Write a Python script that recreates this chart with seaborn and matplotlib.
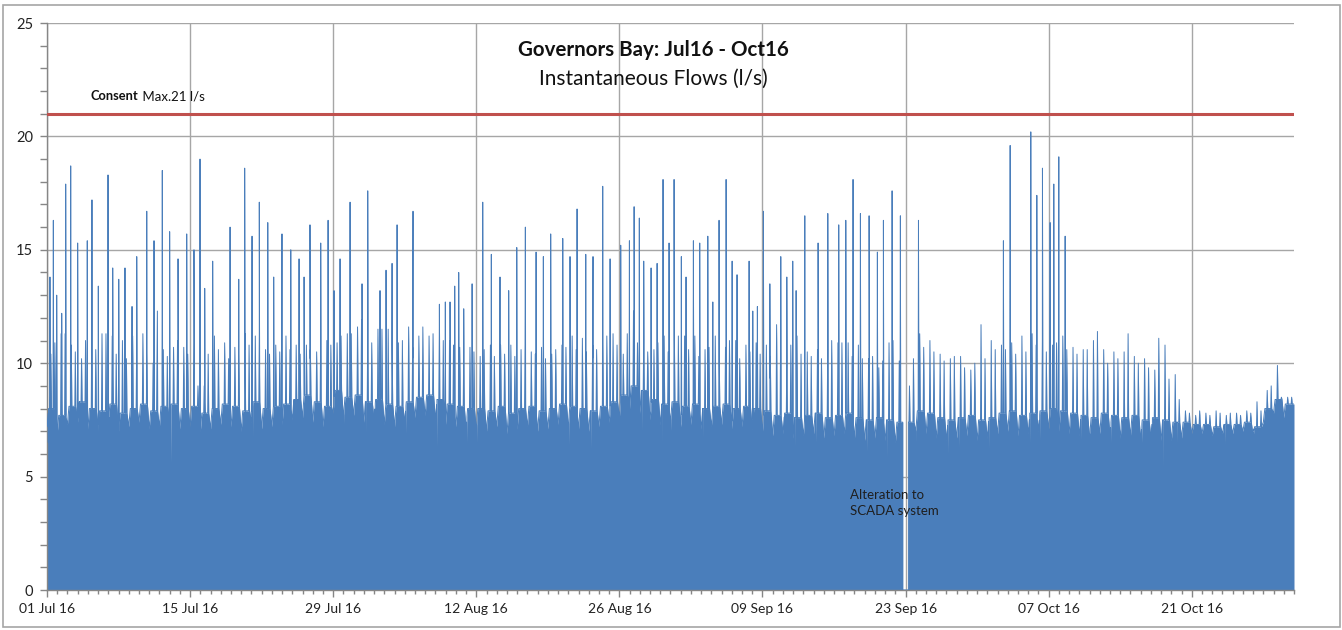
import numpy as np
import pandas as pd
import matplotlib
matplotlib.use('Agg')
import matplotlib.pyplot as plt
import matplotlib.dates as mdates
from matplotlib.ticker import MultipleLocator
from matplotlib.patches import Rectangle
import seaborn as sns

# ── Data ──────────────────────────────────────────────────
start = pd.Timestamp('2016-07-01')
n_days = 122
tick_labels = ['01 Jul 16', '15 Jul 16', '29 Jul 16', '12 Aug 16', '26 Aug 16',
               '09 Sep 16', '23 Sep 16', '07 Oct 16', '21 Oct 16']
tick_dates = pd.date_range(start, periods=len(tick_labels), freq='14D')
consent = 21.0

# daily background flow: overnight low, daytime level, two secondary peaks
base_lo = [7.2, 6.9, 7.3, 7.4, 7.1, 7.0, 7.3, 7.0, 7.2, 7.4, 7.1, 7.2, 7.3, 7.1,
           7.2, 7.0, 7.1, 7.3, 7.2, 7.0, 7.4, 7.1, 7.2, 7.3, 7.5, 7.6, 7.4, 7.2,
           7.8, 7.6, 7.7, 7.4, 7.5, 7.3, 7.2, 7.4, 7.6, 7.7, 7.5, 7.3, 7.2, 7.1,
           7.1, 7.0, 7.2, 6.9, 7.1, 7.2, 7.0, 7.1, 7.3, 7.2, 7.1, 7.0, 7.2, 7.4,
           7.6, 8.0, 7.8, 7.5, 7.3, 7.4, 7.2, 7.3, 7.1, 7.2, 7.3, 7.1, 7.2, 7.1,
           7.0, 6.8, 6.9, 6.7, 6.8, 6.9, 6.7, 6.8, 6.9, 6.7, 6.6, 6.7, 6.6, 6.5,
           6.6, 7.0, 6.9, 6.7, 6.6, 6.7, 6.8, 6.6, 6.7, 6.9, 7.0, 6.8, 6.9, 7.0,
           7.1, 7.0, 6.9, 6.8, 6.7, 6.9, 6.8, 6.7, 6.8, 6.6, 6.7, 6.6, 6.6, 6.7,
           6.9, 6.9, 6.8, 6.9, 6.9, 7.0, 6.8, 7.4, 7.8, 7.6]
base_hi = [8.0, 7.7, 8.1, 8.3, 8.0, 7.9, 8.2, 7.8, 8.0, 8.2, 7.9, 8.1, 8.2, 8.0,
           8.1, 7.8, 8.0, 8.2, 8.1, 7.9, 8.3, 8.0, 8.1, 8.2, 8.4, 8.6, 8.3, 8.1,
           8.8, 8.5, 8.6, 8.3, 8.4, 8.2, 8.1, 8.3, 8.5, 8.6, 8.4, 8.2, 8.1, 8.0,
           8.0, 7.9, 8.1, 7.8, 8.0, 8.1, 7.9, 8.0, 8.2, 8.1, 8.0, 7.9, 8.1, 8.3,
           8.6, 9.0, 8.8, 8.4, 8.2, 8.3, 8.1, 8.2, 8.0, 8.1, 8.2, 8.0, 8.1, 8.0,
           7.9, 7.7, 7.8, 7.6, 7.7, 7.8, 7.6, 7.7, 7.8, 7.6, 7.5, 7.6, 7.5, 7.4,
           7.4, 7.9, 7.8, 7.6, 7.5, 7.6, 7.7, 7.5, 7.6, 7.8, 7.9, 7.7, 7.8, 7.9,
           8.0, 7.9, 7.8, 7.7, 7.6, 7.8, 7.7, 7.6, 7.7, 7.5, 7.6, 7.5, 7.4, 7.4,
           7.3, 7.3, 7.2, 7.3, 7.3, 7.4, 7.2, 8.0, 8.4, 8.2]
mid_a = [10.4, 11.3, 10.8, 10.2, 11.7, 11.3, 11.2, 11.0, 11.2, 11.3, 10.0, 10.6, 10.7, 10.7,
         10.9, 9.0, 11.2, 10.9, 10.7, 11.3, 11.2, 10.6, 10.8, 11.2, 10.8, 10.8, 10.5, 11.0,
         10.9, 11.3, 11.6, 11.7, 11.5, 11.5, 10.9, 11.6, 11.2, 11.2, 11.2, 11.0, 10.7, 10.7,
         10.3, 10.8, 10.8, 10.8, 10.6, 10.5, 10.7, 10.4, 10.8, 11.2, 11.1, 10.8, 10.9, 11.3,
         10.4, 12.3, 11.0, 10.6, 11.2, 11.2, 11.2, 11.2, 10.6, 11.2, 10.7, 11.0, 10.8, 10.9,
         10.8, 11.7, 10.2, 11.2, 10.5, 10.6, 10.6, 10.9, 10.9, 10.8, 10.2, 9.8, 10.9, 10.1,
         9.0, 11.3, 11.0, 10.4, 10.2, 10.3, 9.7, 11.7, 11.0, 10.8, 10.9, 11.2, 11.3, 11.0,
         10.8, 11.2, 10.7, 10.6, 11.0, 10.6, 10.5, 10.5, 10.3, 10.2, 9.7, 10.8, 9.5, 7.9,
         7.7, 7.8, 7.9, 7.7, 7.8, 7.9, 8.3, 8.8, 9.9, 8.5]
mid_b = [10.9, 11.3, 10.5, 11.0, 10.6, 11.3, 10.4, 10.2, 10.6, 10.5, 10.8, 10.3, 11.0, 10.4,
         9.0, 10.4, 10.6, 10.2, 10.4, 10.8, 11.2, 10.4, 10.5, 10.6, 10.4, 10.6, 10.9, 10.8,
         11.2, 11.3, 11.9, 10.9, 11.5, 10.8, 11.0, 10.7, 11.6, 11.3, 11.0, 10.8, 10.5, 10.5,
         10.6, 10.3, 10.4, 10.3, 10.8, 10.4, 10.2, 10.6, 10.7, 10.6, 10.5, 10.6, 11.2, 10.8,
         11.3, 10.9, 10.5, 10.9, 10.5, 11.2, 10.6, 10.3, 10.7, 10.4, 11.0, 10.2, 10.5, 10.4,
         10.3, 10.9, 10.8, 10.4, 10.3, 10.2, 11.0, 10.9, 10.3, 10.2, 10.3, 10.1, 11.0, 10.0,
         10.2, 10.7, 10.5, 10.1, 10.3, 9.8, 10.0, 10.2, 10.6, 10.6, 10.4, 10.5, 10.8, 10.5,
         10.9, 10.6, 10.4, 10.6, 11.4, 10.0, 10.2, 11.3, 10.0, 9.8, 11.1, 9.3, 8.4, 7.8,
         7.9, 7.7, 7.8, 7.8, 7.7, 7.8, 7.9, 9.0, 8.5, 8.5]

# tall peaks (days after 01 Jul, l/s)
spike_day = [0.29, 0.62, 0.95, 1.44, 1.83, 2.32, 3.00, 3.94, 4.40, 5.02, 5.97, 6.43,
             7.02, 7.63, 8.32, 8.78, 9.76, 10.47, 10.80, 11.28, 12.00, 12.82, 13.67,
             14.38, 14.97, 15.43, 16.21, 17.91, 18.76, 19.34, 20.06, 20.77,
             21.60, 22.18, 22.99, 23.85, 24.66, 25.15, 25.73, 26.78, 27.50, 28.08,
             28.67, 29.65, 30.82, 31.38, 32.58, 33.17, 33.76, 34.25, 35.81, 38.39,
             38.97, 39.43, 39.89, 40.28, 40.77,
             41.59, 42.63, 43.47, 44.32, 45.17, 45.96, 46.80, 47.85, 48.56, 49.28,
             50.46, 51.17, 51.86, 52.71, 53.42, 54.37, 55.09, 56.13, 56.98, 57.44,
             57.95, 58.38, 59.10, 59.69, 60.27, 60.86, 61.35,
             62.06, 62.52, 63.24, 63.86, 64.65, 65.14, 65.75, 66.44, 67.03, 67.51,
             68.69, 69.05, 69.50, 70.09, 70.72, 71.79, 72.38, 72.96, 73.29, 74.14,
             75.44, 76.39, 77.46, 78.15, 78.86, 79.58, 80.43, 81.24, 81.83,
             82.68, 83.49, 85.26, 93.57, 94.23, 96.25, 96.84, 97.39, 98.14, 98.50,
             98.99, 99.61]
spike_flow = [13.8, 16.3, 13.0, 12.2, 17.9, 18.7, 15.3, 15.4, 17.2, 13.4, 18.3, 14.2,
              13.7, 14.2, 12.5, 14.7, 16.7, 15.4, 12.3, 18.5, 15.8, 14.6, 15.7,
              15.0, 19.0, 13.3, 14.5, 16.0, 13.7, 18.6, 15.6, 17.1,
              16.2, 13.8, 15.7, 15.0, 14.6, 13.8, 16.1, 15.3, 16.3, 13.2,
              14.6, 17.1, 13.5, 17.6, 13.2, 14.1, 14.4, 16.1, 16.7, 12.6,
              12.7, 12.7, 13.4, 14.0, 12.4,
              13.5, 17.1, 14.8, 13.8, 13.2, 15.1, 16.0, 14.9, 14.7, 15.7,
              15.5, 14.7, 16.8, 14.8, 14.7, 17.8, 14.6, 15.2, 15.4, 16.9,
              16.4, 14.5, 14.2, 14.4, 18.1, 15.3, 18.1,
              14.7, 13.8, 15.4, 15.3, 15.6, 12.7, 16.3, 18.1, 14.5, 13.9,
              14.5, 12.3, 12.5, 16.7, 13.5, 14.7, 13.8, 14.5, 13.2, 16.5,
              15.3, 16.6, 16.1, 16.3, 18.1, 16.6, 16.5, 14.9, 16.3,
              17.6, 16.5, 16.3, 15.4, 19.6, 20.2, 17.4, 18.6, 16.2, 17.9,
              19.1, 15.6]

# short drops below the background
dip_day = [0.13, 3.16, 5.12, 6.07, 12.10, 20.10, 24.17, 29.00, 31.20, 32.10, 35.10,
           38.13, 41.07, 42.05, 51.05, 53.20, 58.19, 60.15, 61.00, 64.16, 72.14,
           73.16, 75.21, 80.20, 82.16, 85.00, 88.13, 89.20, 92.14, 96.12, 97.10,
           101.14, 102.05, 104.08, 107.10, 108.12, 109.17, 110.54, 112.10, 115.20, 118.07]
dip_flow = [6.5, 6.7, 5.9, 6.0, 5.6, 6.2, 6.5, 7.0, 6.9, 6.7, 6.9,
            6.3, 6.5, 6.5, 6.4, 6.2, 7.0, 6.4, 7.0, 6.7, 6.1,
            6.3, 6.5, 6.1, 5.8, 6.5, 6.0, 6.3, 6.2, 6.2, 6.5,
            6.6, 6.3, 6.5, 6.5, 5.8, 5.4, 6.5, 7.1, 6.4, 7.1]

# SCADA outage on 23 Sep (no record)
gap_start, gap_end = 83.72, 84.28

# ── Build the series ──────────────────────────────────────
t, f = [], []
for d in range(n_days):
    t += [d, d + 0.15, d + 0.33, d + 0.38, d + 0.43, d + 0.72, d + 0.77, d + 0.82]
    f += [base_lo[d], base_hi[d], base_hi[d], mid_a[d], base_hi[d],
          base_hi[d], mid_b[d], base_hi[d]]
t.append(n_days)
f.append(base_hi[-1])
bt, bf = np.array(t), np.array(f)

for days, vals, half in [(spike_day, spike_flow, 0.03), (dip_day, dip_flow, 0.02)]:
    for d, v in zip(days, vals):
        t += [d - half, d, d + half]
        f += [np.interp(d - half, bt, bf), v, np.interp(d + half, bt, bf)]

t, f = np.array(t), np.array(f)
order = np.argsort(t, kind='stable')
t, f = t[order], f[order]
keep_a, keep_b = t < gap_start, t > gap_end
t = np.concatenate([t[keep_a], [gap_start, gap_start, gap_end, gap_end], t[keep_b]])
f = np.concatenate([f[keep_a], [np.interp(gap_start, bt, bf), 0, 0,
                                np.interp(gap_end, bt, bf)], f[keep_b]])

df = pd.DataFrame({'time': start + pd.to_timedelta(t, unit='D'), 'flow': f})

# ── Plot ──────────────────────────────────────────────────
sns.set_theme(style='white')
plt.rcParams['font.family'] = ['Lato', 'DejaVu Sans']

blue = '#4a7ebb'
grid_c = '#a6a6a6'
axis_c = '#868686'

fig = plt.figure(figsize=(13.42, 6.3), dpi=100)
ax = fig.add_axes([0.03502, 0.06349, 0.92921, 0.9])

ax.fill_between(df['time'], df['flow'], 0, color=blue, lw=0, zorder=2)
sns.lineplot(data=df, x='time', y='flow', ax=ax, color=blue, lw=0.7,
             estimator=None, sort=False, zorder=3)
ax.axhline(consent, color='#c0504d', lw=2.2, zorder=4)

ax.set_xlim(start, start + pd.Timedelta(days=n_days))
ax.set_ylim(0, 25)
ax.set_xlabel('')
ax.set_ylabel('')

ax.set_xticks(tick_dates)
ax.set_xticklabels(tick_labels)
ax.xaxis.set_minor_locator(mdates.DayLocator())
ax.yaxis.set_major_locator(MultipleLocator(5))
ax.yaxis.set_minor_locator(MultipleLocator(1))
ax.tick_params(axis='x', which='major', bottom=True, length=5, width=1,
               color=axis_c, pad=4, labelsize=10, labelcolor='#222222')
ax.tick_params(axis='x', which='minor', bottom=True, length=3, width=1, color=axis_c)
ax.tick_params(axis='y', which='both', left=True, length=5, width=1,
               color=axis_c, pad=5, labelsize=10.5, labelcolor='#222222')

ax.grid(True, which='major', color=grid_c, lw=1.0)
ax.set_axisbelow(True)
for side in ['top', 'right']:
    ax.spines[side].set_visible(False)
for side in ['left', 'bottom']:
    ax.spines[side].set_color(axis_c)
    ax.spines[side].set_linewidth(1.0)

# labels
x_consent = mdates.date2num(start + pd.Timedelta(days=4.3))
lab = ax.text(x_consent, 21.78, 'Consent', fontsize=9.3, fontweight='bold',
              va='center', ha='left', color='#111111', zorder=5)
ax.annotate(' Max.21 l/s', xy=(1, 0.5), xycoords=lab, va='center', ha='left',
            fontsize=9.5, color='#111111', zorder=5)

x_note = mdates.date2num(start + pd.Timedelta(days=78.6))
ax.text(x_note, 4.45, 'Alteration to\nSCADA system', fontsize=9.5, va='top',
        ha='left', color='#1f1f1f', linespacing=1.35, zorder=5)

fig.text(0.487, 0.921, 'Governors Bay: Jul16 - Oct16', ha='center', va='center',
         fontsize=14.8, fontweight='bold', color='#111111')
fig.text(0.487, 0.875, 'Instantaneous Flows (l/s)', ha='center', va='center',
         fontsize=15, color='#111111')

fig.patches.append(Rectangle((0.0022, 0.0048), 0.9963, 0.9877, transform=fig.transFigure,
                             fill=False, ec='#a6a6a6', lw=1.2))

fig.savefig('out.png', dpi=100)
plt.close(fig)
